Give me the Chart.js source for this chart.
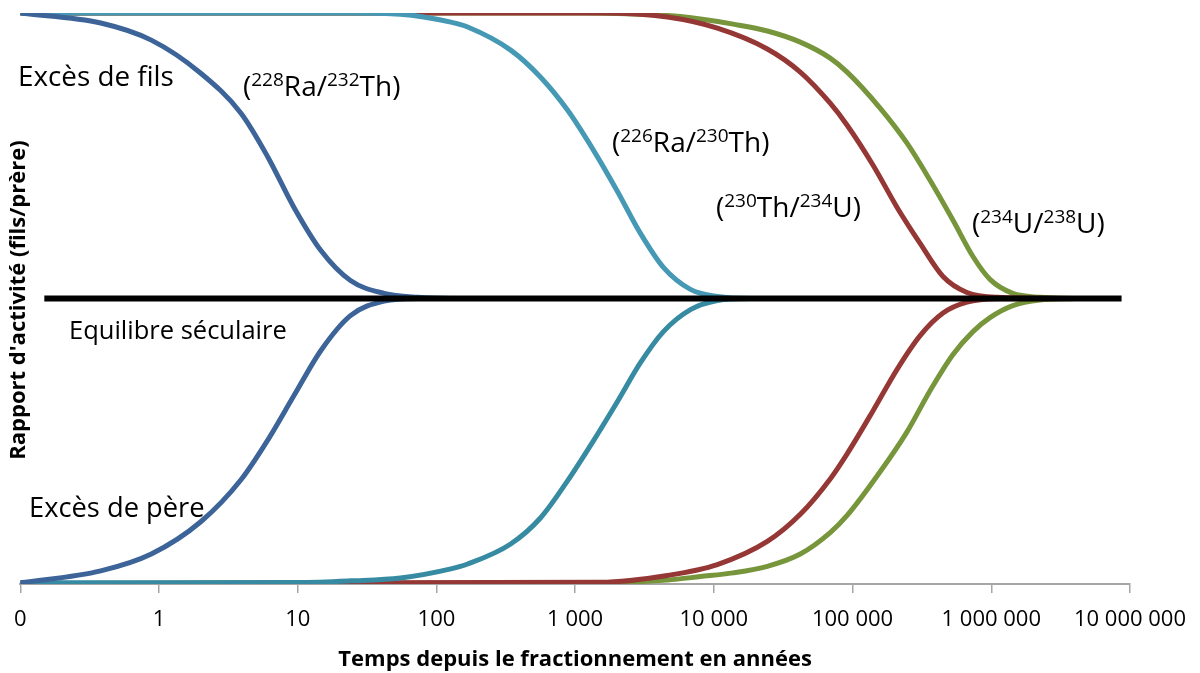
<!DOCTYPE html>
<html>
<head>
<meta charset="utf-8">
<script src="https://cdn.jsdelivr.net/npm/chart.js@4.4.1/dist/chart.umd.min.js"></script>
<style>
    html, body { margin: 0; padding: 0; background: #fff; }
</style>
</head>
<body>
<canvas id="chart" width="1200" height="673"></canvas>
<script>
// Axis ticks (years, log scale; "0" stands at the 0.1 position)
const tickValues = [0.1, 1, 10, 100, 1000, 1e4, 1e5, 1e6, 1e7];
const tickLabels = ['0', '1', '10', '100', '1 000', '10 000', '100 000', '1 000 000', '10 000 000'];

// Secular equilibrium line
const equilibriumTime = [0.149, 8.7e6];
const equilibriumRatio = [1, 1];

// (228Ra/232Th)
const raThTime   = [0.1, 0.38, 0.88, 2.0, 3.9, 6.1, 9.4, 14.7, 24, 42, 73, 127, 4e6];
const raThExcess = [2.0, 1.965, 1.905, 1.789, 1.649, 1.495, 1.319, 1.168, 1.063, 1.018, 1.004, 1.0, 1.0];
const raThDefect = [0.004, 0.046, 0.105, 0.218, 0.365, 0.505, 0.66, 0.818, 0.94, 0.991, 1.0, 1.0, 1.0];

// (226Ra/230Th)
const ra226Time   = [0.1, 1, 10, 24, 55, 127, 168, 343, 564, 881, 1358, 2020, 2958, 4330, 6780, 10600, 18300, 4e6];
const ra226Excess = [2.0, 2.0, 2.0, 2.0, 1.996, 1.968, 1.951, 1.87, 1.775, 1.66, 1.519, 1.375, 1.228, 1.109, 1.032, 1.007, 1.0, 1.0];
const ra226Defect = [0.004, 0.004, 0.005, 0.011, 0.021, 0.053, 0.07, 0.14, 0.232, 0.361, 0.502, 0.639, 0.775, 0.884, 0.961, 0.993, 1.0, 1.0];

// (230Th/234U)
const thUTime   = [0.1, 1524, 4630, 10600, 24300, 42000, 69000, 91400, 140600, 209500, 307000, 449000, 668000, 1.1e6, 4e6];
const thUExcess = [2.0, 2.0, 1.986, 1.947, 1.874, 1.793, 1.684, 1.607, 1.467, 1.319, 1.193, 1.077, 1.021, 1.004, 1.0];
const thUDefect = [0.002, 0.006, 0.03, 0.068, 0.149, 0.244, 0.368, 0.456, 0.607, 0.752, 0.87, 0.949, 0.987, 0.999, 1.0];

// (234U/238U)
const uUTime   = [0.1, 1150, 4630, 8000, 13800, 24300, 42000, 69000, 91400, 158000, 247000, 362000, 530000, 738000, 979000, 1.43e6, 2.24e6, 4e6];
const uUExcess = [2.0, 2.0, 1.991, 1.979, 1.961, 1.937, 1.898, 1.842, 1.793, 1.667, 1.544, 1.414, 1.274, 1.147, 1.067, 1.018, 1.004, 1.0];
const uUDefect = [0.002, 0.0035, 0.014, 0.026, 0.039, 0.062, 0.105, 0.18, 0.24, 0.393, 0.533, 0.677, 0.804, 0.884, 0.933, 0.975, 0.995, 1.0];

const FONT = "'Open Sans', 'Noto Sans', sans-serif";

const toPoints = (times, values) => times.map((t, i) => ({ x: t, y: values[i] }));

const curve = (times, values, color) => ({
    data: toPoints(times, values),
    borderColor: color,
    borderWidth: 5,
    pointRadius: 0,
    fill: false,
    cubicInterpolationMode: 'monotone',
});

// Free texts written on the chart
const annotations = [
    { parts: [['Excès de fils', false]], x: 18, y: 86, size: 27.8 },
    { parts: [['(', false], ['228', true], ['Ra/', false], ['232', true], ['Th)', false]], x: 243, y: 96, size: 28 },
    { parts: [['(', false], ['226', true], ['Ra/', false], ['230', true], ['Th)', false]], x: 612, y: 152, size: 28 },
    { parts: [['(', false], ['230', true], ['Th/', false], ['234', true], ['U)', false]], x: 716, y: 217, size: 28 },
    { parts: [['(', false], ['234', true], ['U/', false], ['238', true], ['U)', false]], x: 972, y: 233, size: 28 },
    { parts: [['Equilibre séculaire', false]], x: 69, y: 339, size: 25.5 },
    { parts: [['Excès de père', false]], x: 29, y: 517, size: 27.3 },
];

const textPlugin = {
    id: 'texts',
    afterDraw(chart) {
        const ctx = chart.ctx;
        ctx.save();
        ctx.fillStyle = '#000';
        ctx.textBaseline = 'alphabetic';
        ctx.textAlign = 'left';
        annotations.forEach(a => {
            let x = a.x;
            a.parts.forEach(([txt, sup]) => {
                const size = sup ? 19 : a.size;
                ctx.font = `${size}px ${FONT}`;
                ctx.fillText(txt, x, sup ? a.y - 10 : a.y);
                x += ctx.measureText(txt).width;
            });
        });
        // Y axis title
        ctx.translate(19, 300);
        ctx.rotate(-Math.PI / 2);
        ctx.textAlign = 'center';
        ctx.textBaseline = 'middle';
        ctx.font = `bold 22px ${FONT}`;
        ctx.fillText("Rapport d'activité (fils/prère)", 0, 0);
        ctx.restore();
    }
};

new Chart(document.getElementById('chart').getContext('2d'), {
    type: 'line',
    data: {
        datasets: [
            {
                data: toPoints(equilibriumTime, equilibriumRatio),
                borderColor: '#000000',
                borderWidth: 6,
                pointRadius: 0,
                fill: false,
            },
            curve(raThTime, raThExcess, '#3d6499'),
            curve(raThTime, raThDefect, '#3d6499'),
            curve(ra226Time, ra226Excess, '#4599b5'),
            curve(ra226Time, ra226Defect, '#368ba2'),
            curve(thUTime, thUExcess, '#953735'),
            curve(thUTime, thUDefect, '#953735'),
            curve(uUTime, uUExcess, '#77953b'),
            curve(uUTime, uUDefect, '#77953b'),
        ],
    },
    options: {
        responsive: false,
        animation: false,
        layout: {
            padding: { left: 19, right: 70, top: 13, bottom: 0 },
        },
        plugins: {
            legend: { display: false },
            tooltip: { enabled: false },
        },
        scales: {
            x: {
                type: 'logarithmic',
                min: 0.1,
                max: 1e7,
                afterBuildTicks: (scale) => {
                    scale.ticks = tickValues.map(v => ({ value: v }));
                },
                afterFit: (scale) => {
                    scale.height = 89;
                },
                ticks: {
                    autoSkip: false,
                    maxRotation: 0,
                    padding: 14,
                    color: '#000',
                    font: { family: FONT, size: 22 },
                    callback: (value, index) => tickLabels[index],
                },
                grid: {
                    drawOnChartArea: false,
                    drawTicks: true,
                    tickLength: 9,
                    color: '#a6a6a6',
                    lineWidth: 1.5,
                },
                border: { color: '#a6a6a6', width: 2 },
                title: {
                    display: true,
                    text: 'Temps depuis le fractionnement en années',
                    color: '#000',
                    font: { family: FONT, size: 22, weight: 'bold' },
                    padding: { top: 0, bottom: 0 },
                },
            },
            y: {
                display: false,
                min: 0,
                max: 2,
            },
        },
    },
    plugins: [textPlugin],
});
</script>
</body>
</html>
